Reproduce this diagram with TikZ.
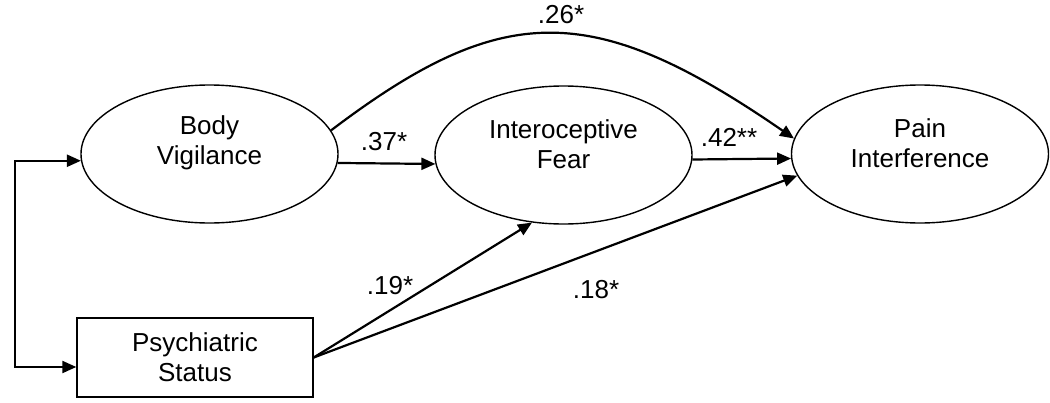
\documentclass[tikz,border=0pt]{standalone}
\usepackage{fontspec}
\setmainfont{Liberation Sans}
\usetikzlibrary{arrows.meta, positioning, shapes.geometric, calc}

\begin{document}
\begin{tikzpicture}[x=0.5pt, y=-0.5pt,
    latent/.style={draw, ellipse, line width=0.7pt, minimum width=128.5pt, minimum height=69pt, inner sep=0pt},
    observed/.style={draw, rectangle, line width=0.7pt, minimum width=118pt, minimum height=39.5pt, inner sep=0pt, align=center, font=\fontsize{13}{15}\selectfont},
    varname/.style={align=center, font=\fontsize{13}{15}\selectfont},
    coef/.style={font=\fontsize{13}{15}\selectfont},
    effect/.style={-{Triangle[length=7pt, width=6pt]}, line width=1.1pt}
]
\useasboundingbox (0,0) rectangle (1050,402);

% Variables
\node[latent] (bv) at (209.5,154) {};
\node[varname] (bvtxt) at (209.5,143) {Body\\Vigilance};
\node[latent] (if) at (563.5,155) {};
\node[varname] (iftxt) at (563.5,144) {Interoceptive\\Fear};
\node[latent] (pi) at (920,154) {};
\node[varname] (pitxt) at (920,143) {Pain\\Interference};
\node[observed] (ps) at (195,357.5) {Psychiatric\\Status};

% Paths
\draw[effect] (bv.11) .. controls (503,0) and (593,0) .. (pi.173);
\draw[effect] (bv.-4) -- (if.184);
\draw[effect] (if.-2) -- (pi.182);
\draw[effect] (ps.east) -- (if.245);
\draw[effect] (ps.east) -- (pi.190);

% Correlation
\coordinate (corr) at (15,260);
\draw[{Triangle[length=7pt, width=6pt]}-{Triangle[length=7pt, width=6pt]}, line width=1.1pt]
    (bv.183) -| (corr) |- ($(ps.west)+(0,9.5)$);

% Coefficients
\node[coef] (c26) at (561,15) {.26*};
\node[coef] (c37) at (384,142) {.37*};
\node[coef] (c42) at (729,137) {.42**};
\node[coef] (c19) at (390,286) {.19*};
\node[coef] (c18) at (596,290) {.18*};

\end{tikzpicture}
\end{document}
